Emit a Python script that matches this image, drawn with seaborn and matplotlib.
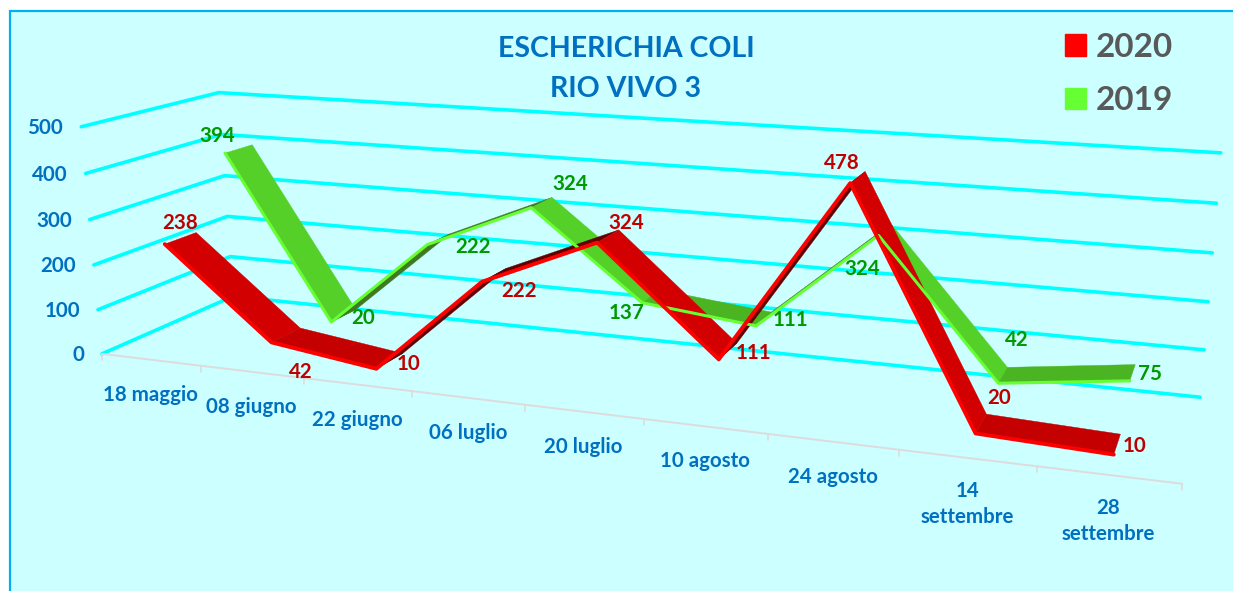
import numpy as np
import pandas as pd
import seaborn as sns
import matplotlib.pyplot as plt
from matplotlib.patches import Patch, Rectangle

dates = ["18 maggio", "08 giugno", "22 giugno", "06 luglio", "20 luglio",
         "10 agosto", "24 agosto", "14\nsettembre", "28\nsettembre"]
values_2020 = [238, 42, 10, 222, 324, 111, 478, 20, 10]
values_2019 = [394, 20, 222, 324, 137, 111, 324, 42, 75]
y_ticks = [0, 100, 200, 300, 400, 500]

# label offsets in pixels from the ribbon point
offsets_2020 = [(15, -21), (29, 30), (32, -5), (37, 9), (29, -20), (35, -6), (-8, -20), (24, -35), (21, -9)]
offsets_2019 = [(-8, -17), (32, -4), (46, 2), (39, -24), (-16, 10), (34, -6), (-16, 34), (18, -43), (20, -7)]

BG = "#CCFFFF"
GRID = "#00FFFF"
BLUE = "#0070C0"

# picture points of the chart box: (category, value, depth) -> pixel
calib_3d = [(0, 0, 0), (9, 0, 0), (0, 500, 0), (0, 0, 1), (0, 500, 1), (9, 0, 1), (9, 500, 1),
            (1, 0, 0), (2, 0, 0), (3, 0, 0), (4, 0, 0), (5, 0, 0), (6, 0, 0), (7, 0, 0), (8, 0, 0),
            (0, 200, 0), (0, 200, 1), (9, 200, 1)]
calib_px = [(101, 353), (1182, 482), (82, 127), (234, 297), (218, 93), (1200, 397), (1221, 153),
            (201, 365), (304, 378), (412, 392), (525, 405), (644, 420), (768, 435), (899, 450), (1037, 467),
            (94, 264), (227, 216), (1208, 301)]


def fit_camera():
    rows = []
    rhs = []
    for (a, b, c), (u, v) in zip(calib_3d, calib_px):
        b = b / 100
        rows.append([a, b, c, 1, 0, 0, 0, 0, -u * a, -u * b, -u * c])
        rows.append([0, 0, 0, 0, a, b, c, 1, -v * a, -v * b, -v * c])
        rhs += [u, v]
    p = np.linalg.lstsq(np.array(rows, float), np.array(rhs, float), rcond=None)[0]
    return np.append(p, 1).reshape(3, 4)


CAM = fit_camera()


def project(x, v, z):
    h = CAM @ np.array([x, v / 100, z, 1.0])
    return h[0] / h[2], h[1] / h[2]


def draw_ribbon(ax, values, z0, z1, colors, edge, lw):
    for i in range(len(values) - 1):
        a, b = values[i], values[i + 1]
        poly = [project(i + 0.5, a, z0), project(i + 1.5, b, z0),
                project(i + 1.5, b, z1), project(i + 0.5, a, z1)]
        diff = b - a
        if diff > 40:
            c = colors[2]
        elif diff > -60:
            c = colors[1]
        else:
            c = colors[0]
        ax.fill(*zip(*poly), color=c, lw=0.3, zorder=3)
    pts = [project(i + 0.5, v, z0) for i, v in enumerate(values)]
    df = pd.DataFrame(pts, columns=["px", "py"])
    sns.lineplot(data=df, x="px", y="py", sort=False, estimator=None, color=edge, lw=lw, ax=ax, zorder=4)
    return pts


sns.set_theme(style="white")
plt.rcParams['font.family'] = ['Lato', 'DejaVu Sans']
plt.rcParams['font.weight'] = 'bold'

fig = plt.figure(figsize=(12.33, 5.91), dpi=100, facecolor="white")
ax = fig.add_axes([0, 0, 1, 1])
ax.add_patch(Rectangle((10, 11), 1300, 700, facecolor=BG, edgecolor="#00B0F0", lw=1.6, zorder=0))

# walls
rows = []
for v in y_ticks:
    for k, (x, z) in enumerate([(0, 0), (0, 1), (9, 1)]):
        px, py = project(x, v, z)
        rows.append({"px": px, "py": py, "line": v, "k": k})
grid = pd.DataFrame(rows)
sns.lineplot(data=grid, x="px", y="py", units="line", estimator=None, sort=False,
             color=GRID, lw=2.6, ax=ax, zorder=1, solid_capstyle="round")

# floor front edge with ticks
front = [project(i, 0, 0) for i in range(len(dates) + 1)]
ax.plot(*zip(*front), color="#DCDCDC", lw=1.4, zorder=1)
for px, py in front:
    ax.plot([px, px], [py, py + 6], color="#DCDCDC", lw=1.2, zorder=1)

for v in y_ticks:
    px, py = project(0, v, 0)
    ax.text(px - 18, py + 1.5, str(v), color=BLUE, fontsize=14.8, ha="right", va="center")

for i, d in enumerate(dates):
    px, py = project(i + 0.5, 0, 0)
    ax.text(px, py + (46 if "\n" in d else 35), d, color=BLUE, fontsize=14.8, ha="center", va="center", linespacing=1.42)

pts_2019 = draw_ribbon(ax, values_2019, 0.65, 0.87, ["#55D028", "#4BB422", "#3F7A20"], "#66FF33", 2.2)
pts_2020 = draw_ribbon(ax, values_2020, 0.16, 0.39, ["#D20000", "#C40000", "#600000"], "#FF0000", 2.8)

for pts, vals, offs, col in [(pts_2020, values_2020, offsets_2020, "#C00000"),
                             (pts_2019, values_2019, offsets_2019, "#009900")]:
    for (px, py), v, (ox, oy) in zip(pts, vals, offs):
        ax.text(px + ox, py + oy, str(v), color=col, fontsize=14.8, ha="center", va="center", zorder=6)

ax.text(626, 49, "ESCHERICHIA COLI", color=BLUE, fontsize=20.5, ha="center", va="center")
ax.text(626, 89, "RIO VIVO 3", color=BLUE, fontsize=20.5, ha="center", va="center")

handles = [Patch(color="#FF0000", label="2020"), Patch(color="#66FF33", label="2019")]
leg = ax.legend(handles=handles, loc="upper left", bbox_to_anchor=(1065 / 1233, 1 - 33 / 591), frameon=False,
                fontsize=24, handlelength=0.62, handleheight=0.62, handletextpad=0.3, labelspacing=0.73,
                borderpad=0, borderaxespad=0)
for t in leg.get_texts():
    t.set_color("#595959")

ax.set_xlim(0, 1233)
ax.set_ylim(591, 0)
ax.axis("off")
fig.savefig("out.png", dpi=100)
